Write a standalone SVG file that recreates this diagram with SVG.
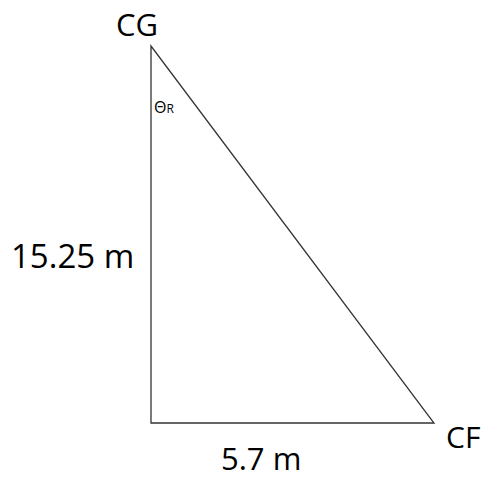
<svg xmlns="http://www.w3.org/2000/svg" width="485" height="478" viewBox="0 0 485 478">
<style>
.t{font-family:"Open Sans","Liberation Sans",sans-serif;fill:#000;}
.l{fill:none;stroke:#333;stroke-width:1.3;}
</style>
<rect width="485" height="478" fill="#fff"/>
<g id="triangle">
<polygon class="l" points="151,46 151,423 434,423"/>
</g>
<g id="labels">
<text class="t" x="116" y="36" font-size="31">CG</text>
<text class="t" x="11" y="268" font-size="33">15.25 m</text>
<text class="t" x="221" y="470" font-size="31">5.7 m</text>
<text class="t" x="446" y="448" font-size="30">CF</text>
<text class="t" x="154" y="113" font-size="16">Θ<tspan font-size="12">R</tspan></text>
</g>
</svg>
